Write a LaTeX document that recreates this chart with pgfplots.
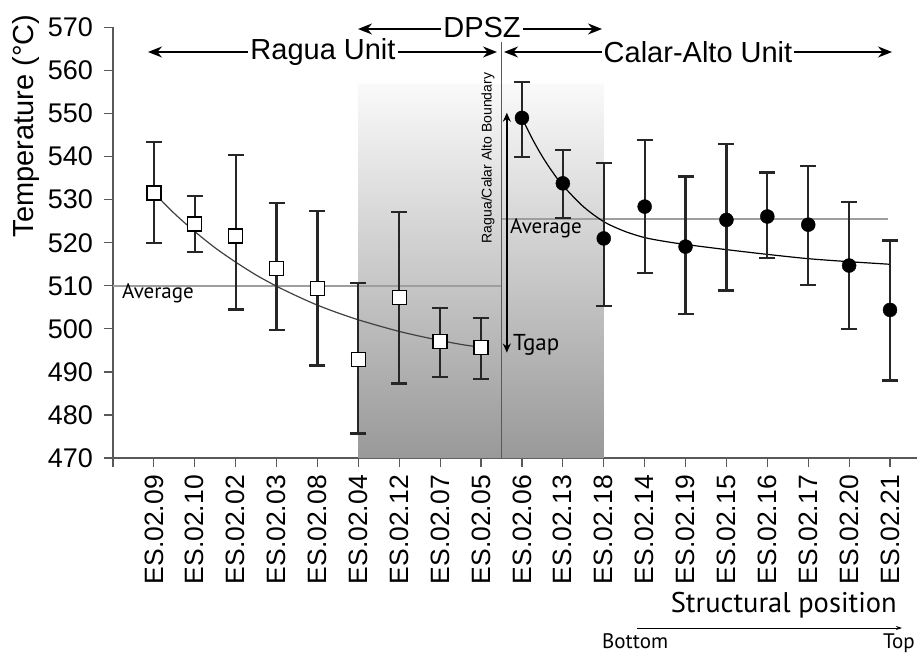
\documentclass[border=0pt]{standalone}
\usepackage{fontspec}
\setmainfont{Liberation Sans}
\newfontfamily\myr{PT Sans}
\usepackage{pgfplots}
\usepackage{pgfplotstable}
\pgfplotsset{compat=1.18}
\usetikzlibrary{arrows.meta}

\definecolor{axisgray}{gray}{0.35}
\definecolor{avggray}{gray}{0.62}

% Ragua Unit samples (open squares)
\pgfplotstableread{
x y ep em
1 531.6 11.8 11.6
2 524.4 6.5 6.6
3 521.6 18.8 17.1
4 514.0 15.3 14.2
5 509.4 18.0 17.9
6 492.9 17.8 17.2
7 507.3 19.9 20.0
8 497.0 7.9 8.1
9 495.7 6.9 7.3
}\ragua

% Calar-Alto Unit samples (filled circles)
\pgfplotstableread{
x y ep em
10 549.0 8.4 9.0
11 533.8 7.8 8.0
12 521.0 17.6 15.6
13 528.4 15.5 15.4
14 519.1 16.3 15.6
15 525.3 17.7 16.4
16 526.1 10.2 9.7
17 524.2 13.7 14.0
18 514.7 14.7 14.7
19 504.4 16.1 16.4
}\calar

% fitted curves
\pgfplotstableread{
x y
1 531.6
1.5 526.8
2 522.6
2.5 518.8
3 515.5
3.5 512.5
4 509.9
4.5 507.6
5 505.5
5.5 503.7
6 502.1
6.5 500.7
7 499.4
7.5 498.3
8 497.3
8.5 496.4
9 495.7
}\raguafit

\pgfplotstableread{
x y
10 549.0
10.25 544.2
10.5 540.0
10.75 536.4
11 533.3
11.5 528.4
12 524.9
12.5 522.7
13 521.2
13.5 520.3
14 519.6
15 518.4
16 517.3
17 516.3
18 515.6
19 515.0
}\calarfit

\begin{document}
\begin{tikzpicture}[x=1pt,y=1pt]
\useasboundingbox (0,0) rectangle (917,656);
\begin{axis}[
  at={(113pt,198pt)}, anchor=south west,
  scale only axis, width=804pt, height=430.5pt,
  xmin=0, xmax=19.66, ymin=470, ymax=570,
  axis lines*=left,
  axis line style={axisgray, line width=1.5pt, -},
  xtick={0,...,19},
  xticklabels={,ES.02.09,ES.02.10,ES.02.02,ES.02.03,ES.02.08,ES.02.04,ES.02.12,ES.02.07,ES.02.05,ES.02.06,ES.02.13,ES.02.18,ES.02.14,ES.02.19,ES.02.15,ES.02.16,ES.02.17,ES.02.20,ES.02.21},
  ytick={470,480,...,570},
  tick align=outside, major tick length=9pt,
  tick style={axisgray, line width=1.2pt},
  xticklabel shift=8pt,
  xticklabel style={rotate=90, anchor=east, font=\fontsize{26.5}{26.5}\selectfont, inner sep=0pt},
  yticklabel style={anchor=east, xshift=-11pt, font=\fontsize{27}{27}\selectfont, inner sep=0pt},
  /pgf/number format/assume math mode=true,
  clip=false,
]
  % DPSZ shaded band
  \addplot[draw=none, top color=black!2, bottom color=black!40]
    coordinates {(6,470) (12,470) (12,557) (6,557)} \closedcycle;
  % averages
  \addplot[avggray, line width=1.5pt] coordinates {(0,510) (9.5,510)};
  \addplot[avggray, line width=1.5pt] coordinates {(9.5,525.5) (18.95,525.5)};
  % boundary
  \addplot[axisgray, line width=1.5pt] coordinates {(9.5,470) (9.5,566.6)};
  \draw[line width=2.6pt, {Stealth[length=9pt,width=8pt]}-{Stealth[length=9pt,width=8pt]}]
    (axis cs:9.63,494.5) -- (axis cs:9.63,550.2);
  % fits
  \addplot[black!75, line width=1.2pt, smooth] table[x=x,y=y]{\raguafit};
  \addplot[black, line width=1.2pt, smooth] table[x=x,y=y]{\calarfit};
  % data
  \addplot[only marks, mark=square*, mark size=7pt,
    mark options={fill=white, draw=black, line width=1.4pt},
    error bars/.cd, y dir=both, y explicit,
    error bar style={black!85, line width=2.2pt},
    error mark options={rotate=90, mark size=8pt, line width=2.2pt, black!85}]
    table[x=x, y=y, y error plus=ep, y error minus=em]{\ragua};
  \addplot[only marks, mark=*, mark size=7pt,
    mark options={fill=black, draw=black},
    error bars/.cd, y dir=both, y explicit,
    error bar style={black!85, line width=2.2pt},
    error mark options={rotate=90, mark size=8pt, line width=2.2pt, black!85}]
    table[x=x, y=y, y error plus=ep, y error minus=em]{\calar};
\end{axis}

\begin{scope}[shift={(0,656)}, y=-1pt]
  % y label
  \node[rotate=90, anchor=base, font=\fontsize{29}{29}\selectfont, inner sep=0pt]
    at (33,126) {Temperature (\textdegree C)};
  % unit arrows
  \draw[line width=1.5pt, {Stealth[length=14pt,width=11pt]}-{Stealth[length=14pt,width=11pt]}] (148,52) -- (497,52);
  \node[fill=white, inner sep=2pt, font=\fontsize{29}{29}\selectfont] at (323,52) {Ragua Unit};
  \draw[line width=1.5pt, {Stealth[length=14pt,width=11pt]}-{Stealth[length=14pt,width=11pt]}] (504,52) -- (892,52);
  \node[fill=white, inner sep=2pt, font=\fontsize{29}{29}\selectfont] at (698,52) {Calar-Alto Unit};
  \draw[line width=1.5pt, {Stealth[length=14pt,width=11pt]}-{Stealth[length=14pt,width=11pt]}] (358,29) -- (602,29);
  \node[fill=white, inner sep=2pt, font=\fontsize{29}{29}\selectfont] at (482,28) {DPSZ};
  % annotations inside plot
  \node[rotate=90, font=\fontsize{14}{14}\selectfont, inner sep=0pt] at (488,158) {Ragua/Calar Alto Boundary};
  \node[anchor=west, font=\myr\fontsize{21}{21}\selectfont, inner sep=0pt] at (122,293) {Average};
  \node[anchor=west, font=\myr\fontsize{21}{21}\selectfont, inner sep=0pt] at (510,228) {Average};
  \node[anchor=west, font=\myr\fontsize{23}{23}\selectfont, inner sep=0pt] at (513,345) {Tgap};
  % structural position
  \node[anchor=base east, font=\myr\fontsize{28.5}{28.5}\selectfont, inner sep=0pt] at (897,612) {Structural position};
  \draw[line width=1pt, -{Stealth[length=6pt,width=4pt]}] (637,628) -- (902,628);
  \node[anchor=base west, font=\myr\fontsize{21}{21}\selectfont, inner sep=0pt] at (602,648) {Bottom};
  \node[anchor=base east, font=\myr\fontsize{21}{21}\selectfont, inner sep=0pt] at (915,648) {Top};
\end{scope}
\end{tikzpicture}
\end{document}
